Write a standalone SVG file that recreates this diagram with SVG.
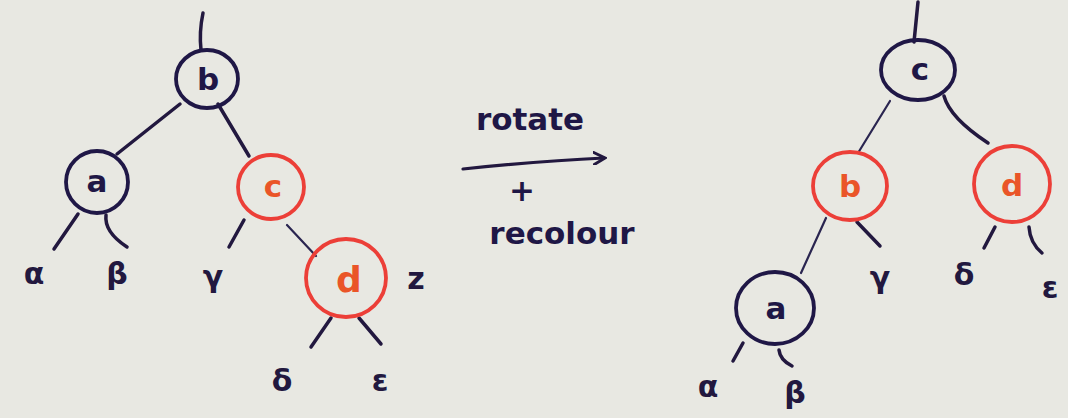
<svg xmlns="http://www.w3.org/2000/svg" width="1068" height="418" viewBox="0 0 1068 418">
<defs>
<style>
.bg{fill:#e8e8e2}
.edge{stroke:#22183f;stroke-width:3.5;stroke-linecap:round;fill:none}
.thin{stroke:#2a2550;stroke-width:2.2;stroke-linecap:round;fill:none}
.blk{fill:none;stroke:#1f1746;stroke-width:3.8}
.red{fill:none;stroke:#ec3f38;stroke-width:3.8}
.tb{font-family:"DejaVu Sans",sans-serif;font-size:31px;fill:#1f1746;text-anchor:middle;font-weight:600}
.tr{font-family:"DejaVu Sans",sans-serif;font-size:31px;fill:#ea5528;text-anchor:middle;font-weight:600}
.g{font-family:"DejaVu Sans",sans-serif;font-size:30px;fill:#22183f;text-anchor:middle;font-weight:bold}
.hand{font-family:"DejaVu Sans",sans-serif;font-size:31px;fill:#1f1746;text-anchor:middle;font-weight:bold}
</style>
<marker id="ah" markerWidth="14" markerHeight="14" refX="11" refY="7" orient="auto" markerUnits="userSpaceOnUse">
<path d="M1,1 L12,7 L1,13" fill="none" stroke="#22183f" stroke-width="3" stroke-linecap="round"/>
</marker>
</defs>
<rect class="bg" x="0" y="0" width="1068" height="418"/>

<g id="connectors">
<path class="edge" d="M203,13 Q199,32 201,50"/>
<path class="edge" d="M180,104 L117,154"/>
<path class="edge" d="M218,104 L249,156"/>
<path class="edge" d="M78,214 L54,249"/>
<path class="edge" d="M106,215 Q104,232 127,247"/>
<path class="edge" d="M244,220 L229,247"/>
<path class="thin" d="M287,225 L316,256"/>
<path class="edge" d="M331,318 L311,347"/>
<path class="edge" d="M359,318 L381,344"/>
<path d="M463,169 Q540,161 604,158" fill="none" stroke="#22183f" stroke-width="3.2" stroke-linecap="round" marker-end="url(#ah)"/>
<path class="edge" d="M918,2 L914,42"/>
<path class="thin" d="M890,101 L858,153"/>
<path class="edge" d="M944,96 Q950,118 988,143"/>
<path class="thin" d="M826,218 L801,273"/>
<path class="edge" d="M857,222 L880,246"/>
<path class="edge" d="M995,227 L984,248"/>
<path class="edge" d="M1029,227 Q1030,243 1042,253"/>
<path class="edge" d="M743,343 L733,361"/>
<path class="edge" d="M779,350 Q780,360 792,366"/>
</g>

<g id="node-left-b"><ellipse class="blk" cx="207" cy="79" rx="31" ry="29"/><text class="tb" x="208" y="90">b</text></g>
<g id="node-left-a"><ellipse class="blk" cx="97" cy="182" rx="31" ry="31"/><text class="tb" x="97" y="192">a</text></g>
<g id="node-left-c"><ellipse class="red" cx="271" cy="187" rx="33" ry="32"/><text class="tr" x="273" y="197">c</text></g>
<g id="node-left-d"><ellipse class="red" cx="346" cy="278" rx="40" ry="39"/><text class="tr" x="349" y="292" style="font-size:36px">d</text></g>

<g id="left-leaves">
<text class="g" x="34" y="284">α</text>
<text class="g" x="117" y="284">β</text>
<text class="g" x="213" y="287">γ</text>
<text class="g" x="416" y="289">z</text>
<text class="g" x="282" y="391">δ</text>
<text class="g" x="380" y="391">ε</text>
</g>

<g id="label-rotate">
<text class="hand" x="530" y="130">rotate</text>
<text class="hand" x="522" y="201">+</text>
<text class="hand" x="562" y="244">recolour</text>
</g>

<g id="node-right-c"><ellipse class="blk" cx="918" cy="70" rx="37" ry="30"/><text class="tb" x="920" y="80">c</text></g>
<g id="node-right-b"><ellipse class="red" cx="850" cy="186" rx="37" ry="34"/><text class="tr" x="850" y="197">b</text></g>
<g id="node-right-d"><ellipse class="red" cx="1012" cy="184" rx="38" ry="38"/><text class="tr" x="1012" y="196">d</text></g>
<g id="node-right-a"><ellipse class="blk" cx="775" cy="308" rx="39" ry="36"/><text class="tb" x="776" y="319">a</text></g>

<g id="right-leaves">
<text class="g" x="880" y="288">γ</text>
<text class="g" x="964" y="285">δ</text>
<text class="g" x="1050" y="298">ε</text>
<text class="g" x="708" y="397">α</text>
<text class="g" x="795" y="403">β</text>
</g>
</svg>
